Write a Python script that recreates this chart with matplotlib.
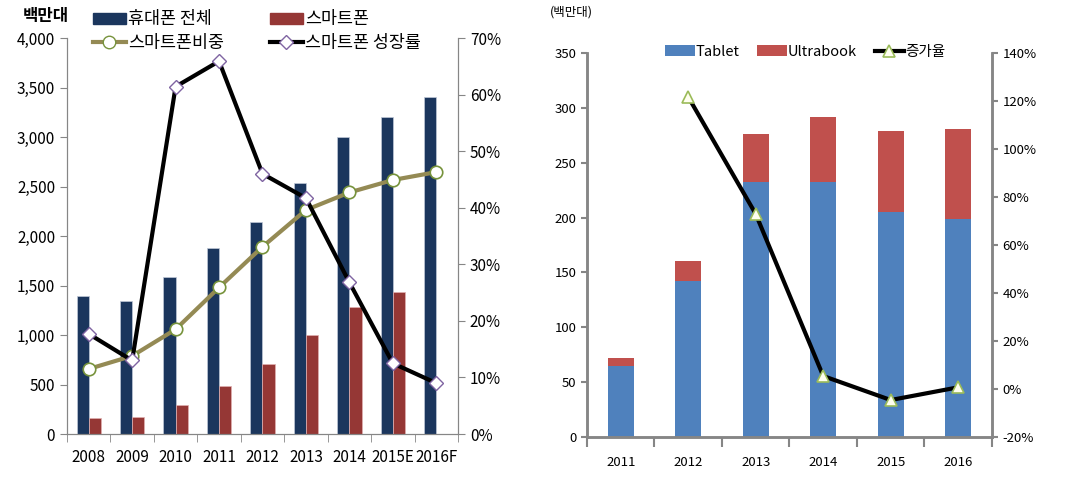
import numpy as np
import matplotlib
matplotlib.use("Agg")
import matplotlib.pyplot as plt
from matplotlib.patches import Patch
from matplotlib.lines import Line2D
from matplotlib.ticker import FuncFormatter, MultipleLocator, FixedLocator

plt.rcParams['font.family'] = ['Noto Sans CJK KR', 'DejaVu Sans']

# left chart data (백만대, %)
years_l = ['2008', '2009', '2010', '2011', '2012', '2013', '2014', '2015E', '2016F']
phones_total = [1390, 1340, 1590, 1880, 2140, 2540, 3000, 3200, 3400]
smartphones = [160, 175, 295, 480, 705, 1005, 1280, 1435, 0]
smart_share = [11.5, 13.8, 18.5, 25.9, 33.1, 39.6, 42.7, 44.9, 46.3]
smart_growth = [17.7, 13.0, 61.4, 65.9, 46.0, 41.7, 26.8, 12.5, 9.0]

# right chart data
years_r = ['2011', '2012', '2013', '2014', '2015', '2016']
tablet = [65, 142, 232, 232, 205, 199]
ultrabook = [7, 18, 44, 60, 74, 82]
growth_r = [np.nan, 121.7, 72.9, 5.4, -4.6, 0.7]

navy = '#1B365D'
dred = '#953735'
olive = '#948A54'
gray = '#868686'

fig = plt.figure(figsize=(10.84, 4.8), dpi=100)

# ---------- left chart ----------
ax = fig.add_axes([0.0618, 0.0958, 0.3607, 0.825])
x = np.arange(len(years_l))
w = 0.28
ax.bar(x - w / 2, phones_total, w, color=navy, edgecolor='#c0c8d8', linewidth=0.5)
ax.bar(x + w / 2, smartphones, w, color=dred, edgecolor='#e0b0b0', linewidth=0.5)
ax.set_xlim(-0.5, len(years_l) - 0.5)
ax.set_ylim(0, 4000)
ax.yaxis.set_major_locator(MultipleLocator(500))
ax.yaxis.set_major_formatter(FuncFormatter(lambda v, p: f'{int(v):,}'))
ax.set_xticks(x)
ax.set_xticklabels(years_l)
ax.xaxis.set_minor_locator(FixedLocator(np.arange(-0.5, len(years_l), 1)))
ax.tick_params(axis='x', which='major', length=0, pad=11, labelsize=11)
ax.tick_params(axis='x', which='minor', length=6, color=gray)
ax.tick_params(axis='y', length=5, color=gray, labelsize=11)
for s in ['left', 'bottom', 'right']:
    ax.spines[s].set_color(gray)
ax.spines['top'].set_visible(False)

ax2 = ax.twinx()
ax2.plot(x, smart_share, color=olive, lw=3, marker='o', ms=9,
         mfc='white', mec='#77933C', mew=1.2)
ax2.plot(x, smart_growth, color='black', lw=3, marker='D', ms=7,
         mfc='white', mec='#7F64A2', mew=1.0)
ax2.set_ylim(0, 70)
ax2.yaxis.set_major_locator(MultipleLocator(10))
ax2.yaxis.set_major_formatter(FuncFormatter(lambda v, p: f'{int(v)}%'))
ax2.tick_params(axis='y', length=5, color=gray, labelsize=11)
for s in ax2.spines.values():
    s.set_color(gray)
ax2.spines['top'].set_visible(False)

fig.text(0.021, 0.967, '백만대', fontsize=12, fontweight='bold', ha='left', va='center')
handles_l = [
    Patch(color=navy, label='휴대폰 전체'),
    Line2D([], [], color=olive, lw=3, marker='o', ms=9, mfc='white', mec='#77933C', label='스마트폰비중'),
    Patch(color=dred, label='스마트폰'),
    Line2D([], [], color='black', lw=3, marker='D', ms=7, mfc='white', mec='#7F64A2', label='스마트폰 성장률'),
]
fig.legend(handles=handles_l, loc='upper left', bbox_to_anchor=(0.076, 1.0), ncol=2,
           frameon=False, fontsize=12.5, handlelength=1.9, handleheight=0.55,
           columnspacing=2.6, handletextpad=0.15, labelspacing=0.32, borderpad=0.1)

# ---------- right chart ----------
bx = fig.add_axes([0.5415, 0.0896, 0.3736, 0.80])
xr = np.arange(len(years_r))
bw = 0.39
bx.bar(xr, tablet, bw, color='#4F81BD', label='Tablet')
bx.bar(xr, ultrabook, bw, bottom=tablet, color='#C0504D', label='Ultrabook')
bx.set_xlim(-0.5, len(years_r) - 0.5)
bx.set_ylim(0, 350)
bx.yaxis.set_major_locator(MultipleLocator(50))
bx.set_xticks(xr)
bx.set_xticklabels(years_r)
bx.xaxis.set_minor_locator(FixedLocator(np.arange(-0.5, len(years_r), 1)))
bx.tick_params(axis='x', which='major', length=0, pad=14, labelsize=9.5)
bx.tick_params(axis='x', which='minor', length=7, width=1.5, color=gray)
bx.tick_params(axis='y', length=4, width=1.5, color=gray, labelsize=9.5)
for s in ['left', 'bottom', 'right']:
    bx.spines[s].set_color(gray)
    bx.spines[s].set_linewidth(1.8)
bx.spines['top'].set_visible(False)

bx2 = bx.twinx()
bx2.plot(xr, growth_r, color='black', lw=3, marker='^', ms=9,
         mfc='#FFFFF0', mec='#9BBB59', mew=1.2, label='증가율')
bx2.set_ylim(-20, 140)
bx2.yaxis.set_major_locator(MultipleLocator(20))
bx2.yaxis.set_major_formatter(FuncFormatter(lambda v, p: f'{int(v)}%'))
bx2.tick_params(axis='y', length=4, width=1.5, color=gray, labelsize=9.5)
for s in bx2.spines.values():
    s.set_color(gray)
    s.set_linewidth(1.8)
bx2.spines['top'].set_visible(False)

fig.text(0.507, 0.975, '(백만대)', fontsize=9, ha='left', va='center')
h1, l1 = bx.get_legend_handles_labels()
h2, l2 = bx2.get_legend_handles_labels()
fig.legend(h1 + h2, l1 + l2, loc='center', bbox_to_anchor=(0.743, 0.892), ncol=3,
           frameon=False, fontsize=10.5, handlelength=2.0, handleheight=0.8,
           columnspacing=1.2, handletextpad=0.1)

fig.savefig('out.png', dpi=100, facecolor='white')
